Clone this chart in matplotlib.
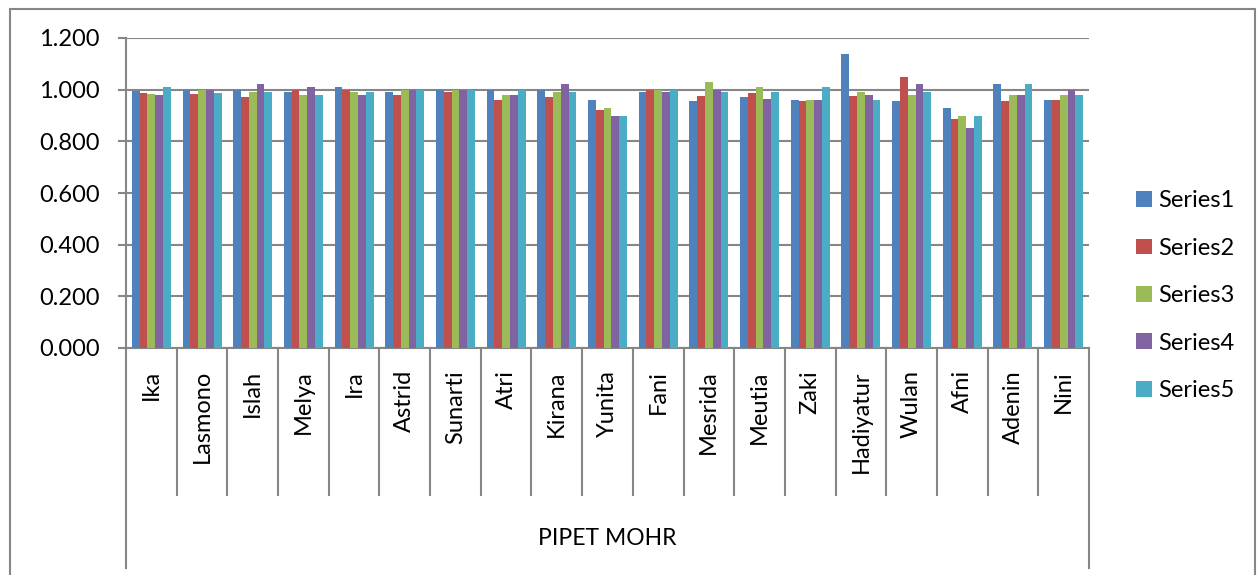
import matplotlib
matplotlib.use('Agg')
import matplotlib.pyplot as plt
import matplotlib.transforms as mtransforms
from matplotlib.patches import Rectangle
import numpy as np

plt.rcParams['font.family'] = ['Lato', 'DejaVu Sans']

# data
names = ['Ika', 'Lasmono', 'Islah', 'Melya', 'Ira', 'Astrid', 'Sunarti', 'Atri',
         'Kirana', 'Yunita', 'Fani', 'Mesrida', 'Meutia', 'Zaki', 'Hadiyatur',
         'Wulan', 'Afni', 'Adenin', 'Nini']
series1 = [0.996, 0.997, 1.000, 0.990, 1.009, 0.990, 1.000, 1.000, 1.000, 0.960,
           0.990, 0.958, 0.971, 0.960, 1.140, 0.957, 0.930, 1.021, 0.960]
series2 = [0.988, 0.983, 0.970, 1.000, 1.000, 0.979, 0.990, 0.960, 0.970, 0.921,
           1.000, 0.974, 0.988, 0.957, 0.974, 1.050, 0.888, 0.958, 0.960]
series3 = [0.983, 1.000, 0.992, 0.979, 0.990, 1.000, 1.000, 0.979, 0.992, 0.930,
           1.000, 1.030, 1.009, 0.960, 0.990, 0.979, 0.899, 0.979, 0.979]
series4 = [0.978, 1.000, 1.021, 1.009, 0.979, 1.000, 1.000, 0.979, 1.021, 0.899,
           0.990, 1.000, 0.962, 0.960, 0.979, 1.021, 0.850, 0.979, 1.000]
series5 = [1.009, 0.986, 0.992, 0.979, 0.990, 1.000, 1.000, 1.000, 0.992, 0.899,
           1.000, 0.992, 0.992, 1.009, 0.960, 0.990, 0.899, 1.021, 0.979]
series_names = ['Series1', 'Series2', 'Series3', 'Series4', 'Series5']
group_label = 'PIPET MOHR'

colors = ['#4F81BD', '#C0504D', '#9BBB59', '#8064A2', '#4BACC6']
grey = '#868686'

W, H = 1257, 575
fig = plt.figure(figsize=(W / 100, H / 100), dpi=100)
ax = fig.add_axes([126 / W, (H - 348) / H, (1089 - 126) / W, (348 - 38) / H])

all_series = [series1, series2, series3, series4, series5]
x = np.arange(len(names))
bw = 1 / 6.5
for i, (vals, c, lab) in enumerate(zip(all_series, colors, series_names)):
    ax.bar(x + (i - 2) * bw, vals, width=bw, color=c, label=lab, zorder=3)

ax.set_xlim(-0.5, len(names) - 0.5)
ax.set_ylim(0, 1.2)
ax.set_yticks(np.arange(0, 1.21, 0.2))
ax.set_yticklabels([f'{v:.3f}' for v in np.arange(0, 1.21, 0.2)])
ax.yaxis.grid(True, color=grey, linewidth=1.5, zorder=0)
ax.set_axisbelow(True)
for s in ['top', 'right']:
    ax.spines[s].set_visible(False)
for s in ['left', 'bottom']:
    ax.spines[s].set_color(grey)
    ax.spines[s].set_linewidth(1.5)
ax.tick_params(axis='y', length=6, width=1.5, color=grey, pad=13, labelsize=17)

ax.set_xticks(x)
ax.set_xticklabels(names, rotation=90, va='top', fontsize=17)
ax.tick_params(axis='x', length=0, pad=16)

# category separators below the axis
tr = mtransforms.blended_transform_factory(ax.transData, ax.transAxes)
for b in np.arange(-0.5, len(names), 1.0):
    low = -0.71 if b in (-0.5, len(names) - 0.5) else -0.474
    ax.plot([b, b], [0, low], color=grey, lw=1.5, transform=tr, clip_on=False)
ax.text((len(names) - 1) / 2, -0.615, group_label, transform=tr, ha='center',
        va='center', fontsize=16.5)

fig.legend(loc='upper left', bbox_to_anchor=(1115 / W, 1 - 169 / H), frameon=False,
           fontsize=17, handlelength=0.65, handleheight=0.65, handletextpad=0.3,
           labelspacing=1.12)

fig.patches.append(Rectangle((10 / W, -0.05), (1255 - 10) / W, 1.05 - 9 / H,
                             transform=fig.transFigure, fill=False,
                             edgecolor=grey, lw=1.5))

fig.savefig('out.png', dpi=100)
